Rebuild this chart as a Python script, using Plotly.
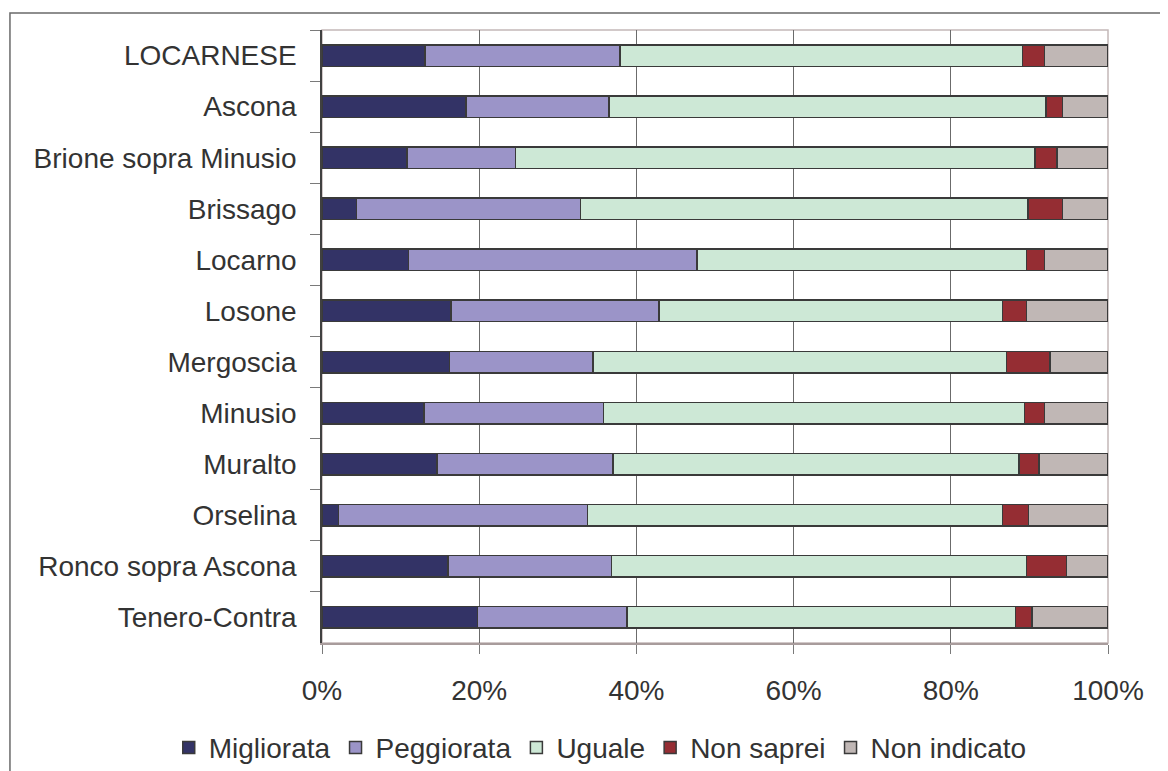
"""
Opinione sulla situazione per comune del Locarnese: barre orizzontali impilate al 100%.
"""

import plotly.graph_objects as go

comuni = [
    "LOCARNESE",
    "Ascona",
    "Brione sopra Minusio",
    "Brissago",
    "Locarno",
    "Losone",
    "Mergoscia",
    "Minusio",
    "Muralto",
    "Orselina",
    "Ronco sopra Ascona",
    "Tenero-Contra",
]

migliorata = [13.1, 18.3, 10.8, 4.4, 11.0, 16.4, 16.2, 13.0, 14.6, 2.1, 16.0, 19.8]
peggiorata = [24.8, 18.2, 13.8, 28.5, 36.7, 26.5, 18.3, 22.8, 22.4, 31.7, 20.8, 19.0]
uguale = [51.2, 55.6, 66.1, 56.9, 41.9, 43.7, 52.6, 53.6, 51.7, 52.8, 52.8, 49.4]
non_saprei = [2.8, 2.1, 2.8, 4.4, 2.3, 3.0, 5.5, 2.5, 2.5, 3.3, 5.1, 2.1]
non_indicato = [8.1, 5.8, 6.5, 5.8, 8.1, 10.4, 7.4, 8.1, 8.8, 10.1, 5.3, 9.7]

x_ticks = [0, 20, 40, 60, 80, 100]
x_tick_labels = ["0%", "20%", "40%", "60%", "80%", "100%"]

SERIES = [
    ("Migliorata", migliorata, "#333366"),
    ("Peggiorata", peggiorata, "#9b94c8"),
    ("Uguale", uguale, "#cde8d6"),
    ("Non saprei", non_saprei, "#952d33"),
    ("Non indicato", non_indicato, "#c0b7b5"),
]

FONT = "Liberation Sans, Arial, sans-serif"
TEXT_COLOR = "#333333"

fig = go.Figure()
for name, values, color in SERIES:
    fig.add_trace(
        go.Bar(
            y=comuni,
            x=values,
            name=name,
            orientation="h",
            marker={"color": color, "line": {"color": "#3a3a3a", "width": 1.5}},
            hovertemplate="%{y}<br>" + name + ": %{x:.1f}%<extra></extra>",
        )
    )

# the page puts the figure 8px in from the top-left corner, hence 1160x763
fig.update_layout(
    barmode="stack",
    bargap=0.58,
    width=1160,
    height=763,
    margin={"l": 314, "r": 60, "t": 22, "b": 128, "autoexpand": False},
    paper_bgcolor="white",
    plot_bgcolor="white",
    font={"family": FONT, "size": 28, "color": TEXT_COLOR},
    legend={
        "orientation": "h",
        "x": -0.195,
        "xanchor": "left",
        "y": -0.171,
        "yanchor": "middle",
        "itemwidth": 30,
        "traceorder": "normal",
        "bgcolor": "rgba(0,0,0,0)",
        "font": {"size": 28},
    },
    shapes=[
        # cornice del grafico
        {
            "type": "rect",
            "xref": "paper",
            "yref": "paper",
            "x0": -0.397,
            "x1": 1.2,
            "y0": -0.3,
            "y1": 1.0277,
            "line": {"color": "#6a6a6a", "width": 1.5},
            "layer": "below",
        },
        # bordo dell'area del tracciato
        {
            "type": "rect",
            "xref": "paper",
            "yref": "paper",
            "x0": 0,
            "x1": 1,
            "y0": 0,
            "y1": 1,
            "line": {"color": "#c4b8b8", "width": 1.5},
            "layer": "below",
        },
    ],
)

fig.update_xaxes(
    range=[0, 100],
    tickvals=x_ticks,
    ticktext=x_tick_labels,
    automargin=False,
    showgrid=True,
    gridcolor="#6b6b6b",
    gridwidth=1,
    zeroline=False,
    showline=True,
    linecolor="#a89c9c",
    linewidth=1.5,
    ticks="outside",
    ticklen=9,
    tickcolor="#7a7a7a",
    ticklabelstandoff=13,
)
fig.update_yaxes(
    autorange="reversed",
    automargin=False,
    showgrid=False,
    showline=True,
    linecolor="#404040",
    linewidth=1.5,
    ticks="outside",
    tickson="boundaries",
    ticklen=10,
    tickcolor="#7a7a7a",
    ticklabelstandoff=18,
)

fig.write_html("out.html")
